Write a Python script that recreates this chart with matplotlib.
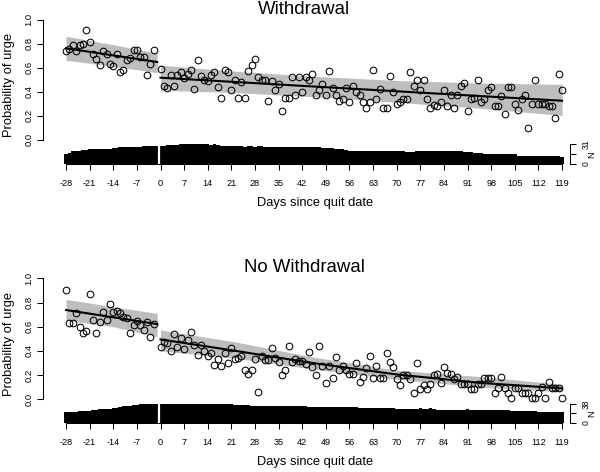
import numpy as np
import matplotlib
matplotlib.use("Agg")
import matplotlib.pyplot as plt

plt.rcParams['font.family'] = ['Liberation Sans', 'DejaVu Sans']

# ---- data ----
pre_days = list(range(-28, -1))       # -28 .. -2
post_days = list(range(0, 120))       # 0 .. 119
bar_pre_days = list(range(-28, 0))    # -28 .. -1
bar_post_days = list(range(0, 120))

w_pre = [0.74, 0.755, 0.785, 0.74, 0.785, 0.80, 0.91, 0.81, 0.71, 0.67,
         0.62, 0.74, 0.71, 0.63, 0.61, 0.71, 0.56, 0.58, 0.66, 0.68,
         0.745, 0.745, 0.69, 0.69, 0.54, 0.63, 0.75]
w_post = [0.59, 0.45, 0.43, 0.54, 0.45, 0.54, 0.56, 0.51, 0.55, 0.58,
          0.42, 0.66, 0.53, 0.50, 0.485, 0.54, 0.56, 0.435, 0.35, 0.58,
          0.56, 0.41, 0.50, 0.35, 0.48, 0.35, 0.57, 0.62, 0.67, 0.52,
          0.50, 0.50, 0.32, 0.49, 0.41, 0.465, 0.24, 0.35, 0.35, 0.52,
          0.37, 0.52, 0.40, 0.52, 0.50, 0.55, 0.37, 0.415, 0.46, 0.37,
          0.57, 0.43, 0.37, 0.32, 0.34, 0.43, 0.31, 0.45, 0.40, 0.37,
          0.31, 0.26, 0.31, 0.58, 0.34, 0.42, 0.26, 0.26, 0.53, 0.40,
          0.30, 0.31, 0.34, 0.34, 0.56, 0.45, 0.50, 0.415, 0.50, 0.34,
          0.26, 0.29, 0.28, 0.31, 0.415, 0.28, 0.37, 0.26, 0.37, 0.45,
          0.47, 0.24, 0.34, 0.35, 0.50, 0.31, 0.34, 0.41, 0.435, 0.28,
          0.28, 0.36, 0.215, 0.435, 0.435, 0.30, 0.25, 0.34, 0.37, 0.10,
          0.30, 0.50, 0.30, 0.30, 0.30, 0.28, 0.28, 0.18, 0.55, 0.41]

nw_pre = [0.90, 0.63, 0.63, 0.716, 0.60, 0.55, 0.567, 0.87, 0.655, 0.545,
          0.64, 0.724, 0.655, 0.785, 0.724, 0.73, 0.71, 0.68, 0.67, 0.55,
          0.61, 0.65, 0.61, 0.573, 0.636, 0.517, 0.62]
nw_post = [0.435, 0.47, 0.463, 0.40, 0.54, 0.435, 0.51, 0.416, 0.49, 0.554,
           0.45, 0.366, 0.45, 0.40, 0.358, 0.385, 0.283, 0.33, 0.278, 0.38,
           0.30, 0.427, 0.33, 0.34, 0.358, 0.242, 0.209, 0.242, 0.333, 0.063,
           0.358, 0.325, 0.325, 0.427, 0.34, 0.31, 0.20, 0.242, 0.44, 0.31,
           0.33, 0.32, 0.32, 0.29, 0.39, 0.27, 0.20, 0.44, 0.275, 0.137,
           0.275, 0.173, 0.352, 0.242, 0.275, 0.242, 0.209, 0.209, 0.30, 0.146,
           0.18, 0.256, 0.358, 0.173, 0.275, 0.173, 0.173, 0.38, 0.31, 0.27,
           0.165, 0.118, 0.20, 0.20, 0.165, 0.05, 0.30, 0.083, 0.118, 0.083,
           0.126, 0.20, 0.209, 0.137, 0.264, 0.22, 0.209, 0.165, 0.18, 0.13,
           0.126, 0.126, 0.083, 0.083, 0.126, 0.126, 0.173, 0.173, 0.173, 0.05,
           0.09, 0.18, 0.09, 0.05, 0.008, 0.09, 0.09, 0.05, 0.05, 0.05,
           0.008, 0.008, 0.05, 0.10, 0.008, 0.146, 0.09, 0.09, 0.09, 0.008]

# fitted lines and confidence bands
w_pre_fit_days = [-28, -1]
w_pre_fit = [0.76, 0.646]
w_pre_band_days = [-28, -14, -1]
w_pre_hi = [0.86, 0.79, 0.72]
w_pre_lo = [0.66, 0.61, 0.557]
w_post_fit_days = [0, 60, 119]
w_post_fit = [0.515, 0.418, 0.323]
w_post_band_days = [0, 20, 45, 70, 95, 119]
w_post_hi = [0.62, 0.573, 0.527, 0.492, 0.47, 0.46]
w_post_lo = [0.41, 0.393, 0.357, 0.31, 0.26, 0.20]

nw_pre_fit_days = [-28, -1]
nw_pre_fit = [0.738, 0.622]
nw_pre_band_days = [-28, -14, -1]
nw_pre_hi = [0.826, 0.765, 0.71]
nw_pre_lo = [0.655, 0.60, 0.517]
nw_post_fit_days = [0, 20, 45, 70, 95, 119]
nw_post_fit = [0.495, 0.41, 0.30, 0.205, 0.135, 0.09]
nw_post_band_days = [0, 22, 45, 70, 95, 119]
nw_post_hi = [0.573, 0.475, 0.35, 0.24, 0.187, 0.124]
nw_post_lo = [0.40, 0.34, 0.25, 0.165, 0.10, 0.063]

# number of participants per day
w_n_pre = [16, 17, 20, 21, 21, 22, 22, 23, 23, 23, 23, 24, 24, 24,
           25, 25, 26, 26, 26, 27, 27, 27, 27, 28, 28, 28, 29, 29]
w_n_post = [29, 29, 30, 30, 30, 30, 31, 31, 31, 31,
            31, 31, 31, 31, 31, 30, 31, 30, 29, 29,
            29, 29, 28, 28, 28, 27, 28, 28, 27, 28,
            28, 27, 27, 27, 27, 27, 26, 26, 27, 27,
            27, 27, 26, 26, 26, 26, 26, 26, 25, 25,
            25, 25, 24, 24, 23, 22, 21, 21, 21, 20,
            21, 21, 21, 21, 20, 20, 20, 20, 20, 20,
            20, 20, 20, 19, 19, 19, 20, 20, 20, 20,
            21, 20, 21, 21, 21, 20, 21, 21, 21, 20,
            19, 19, 19, 18, 17, 17, 16, 16, 16, 16,
            16, 16, 16, 16, 15, 15, 13, 13, 13, 13,
            13, 12, 12, 12, 12, 12, 12, 12, 12, 11]
nw_n_pre = [21, 21, 22, 22, 23, 23, 24, 24, 25, 26, 27, 27, 28, 28,
            29, 30, 32, 33, 34, 34, 35, 36, 37, 38, 38, 38, 37, 37]
nw_n_post = [37, 37, 37, 38, 38, 37, 38, 38, 37, 37,
             38, 38, 38, 38, 38, 38, 38, 38, 38, 38,
             37, 37, 36, 36, 35, 35, 35, 34, 34, 34,
             34, 34, 33, 33, 33, 33, 33, 33, 33, 33,
             33, 33, 33, 33, 32, 32, 32, 32, 32, 32,
             31, 31, 31, 31, 31, 31, 31, 31, 31, 30,
             30, 30, 30, 30, 29, 29, 29, 29, 29, 29,
             28, 28, 28, 28, 28, 27, 27, 29, 27, 27,
             29, 27, 26, 26, 26, 26, 26, 26, 26, 26,
             26, 27, 26, 26, 26, 26, 26, 26, 26, 26,
             26, 26, 26, 26, 24, 24, 23, 23, 23, 23,
             23, 23, 22, 22, 22, 22, 21, 21, 21, 21]

day_ticks = list(range(-28, 120, 7))
prob_ticks = [0.0, 0.2, 0.4, 0.6, 0.8, 1.0]

W, H = 600, 472
fig = plt.figure(figsize=(W / 100, H / 100), dpi=100)


def px_axes(left, top, right, bottom):
    return fig.add_axes([left / W, 1 - bottom / H, (right - left) / W, (bottom - top) / H])


def draw_panel(ax, axb, title, title_y, xlab_y, pre, post, fits, n_pre, n_post):
    band_grey = '#BEBEBE'
    (pf_d, pf, pb_d, p_hi, p_lo, qf_d, qf, qb_d, q_hi, q_lo) = fits
    ax.fill_between(pb_d, p_lo, p_hi, color=band_grey, lw=0, zorder=1)
    ax.fill_between(qb_d, q_lo, q_hi, color=band_grey, lw=0, zorder=1)
    ax.plot(pf_d, pf, color='black', lw=1.5, zorder=3)
    ax.plot(qf_d, qf, color='black', lw=1.5, zorder=3)
    ax.plot(pre_days, pre, 'o', mfc='none', mec='black', ms=4.8, mew=0.75, zorder=2)
    ax.plot(post_days, post, 'o', mfc='none', mec='black', ms=4.8, mew=0.75, zorder=2)

    ax.set_xlim(-34.73, 124.9)
    ax.set_ylim(-0.04, 1.04)
    for s in ['top', 'right', 'bottom']:
        ax.spines[s].set_visible(False)
    ax.spines['left'].set_bounds(0, 1)
    ax.spines['left'].set_linewidth(0.75)
    ax.set_xticks([])
    ax.set_yticks(prob_ticks)
    ax.set_yticklabels(['%.1f' % t for t in prob_ticks])
    ax.tick_params(axis='y', length=4, width=0.75, labelsize=6.8, labelrotation=90, pad=3)
    for lbl in ax.get_yticklabels():
        lbl.set_va('center')
    ax.set_ylabel('Probability of urge', fontsize=9.3)
    ax.yaxis.set_label_coords(-0.053, 0.46)
    ax.patch.set_alpha(0)

    # sample size bars
    axb.bar(bar_pre_days, n_pre, width=1.0, color='black', lw=0)
    axb.bar(bar_post_days, n_post, width=1.0, color='black', lw=0)
    axb.axvline(-0.55, color='white', lw=1.6)
    nmax = max(n_pre + n_post)
    axb.set_xlim(-34.73, 124.9)
    axb.set_ylim(0, nmax)
    axb.spines['top'].set_visible(False)
    axb.spines['left'].set_visible(False)
    axb.spines['bottom'].set_bounds(-28, 119)
    axb.spines['bottom'].set_linewidth(0.75)
    axb.spines['right'].set_position(('axes', 0.978))
    axb.spines['right'].set_bounds(0, nmax)
    axb.spines['right'].set_linewidth(0.75)
    axb.set_xticks(day_ticks)
    axb.set_xticklabels([str(t) for t in day_ticks])
    axb.tick_params(axis='x', length=4, width=0.75, labelsize=6.6, pad=7)
    axb.yaxis.tick_right()
    axb.set_yticks([0, nmax / 2, nmax])
    axb.set_yticklabels(['0', '', str(nmax)])
    axb.tick_params(axis='y', length=4, width=0.75, labelsize=6.2, labelrotation=90, pad=4)
    for lbl in axb.get_yticklabels():
        lbl.set_va('center')
    axb.yaxis.set_label_position('right')
    axb.set_ylabel('N', fontsize=6.8, rotation=90)
    axb.yaxis.set_label_coords(1.009, 0.5)
    axb.patch.set_alpha(0)

    fig.text(304 / W, 1 - title_y / H, title, fontsize=13.4, ha='center', va='center')
    fig.text(314.7 / W, 1 - xlab_y / H, 'Days since quit date', fontsize=9.3,
             ha='center', va='center')


ax_top = px_axes(43.3, 14.7, 582, 144.3)
axb_top = px_axes(43.3, 144.3, 582, 164)
ax_bot = px_axes(43.3, 273.5, 582, 404.1)
axb_bot = px_axes(43.3, 404, 582, 422.7)

draw_panel(ax_top, axb_top, 'Withdrawal', 9.5, 203, w_pre, w_post,
           (w_pre_fit_days, w_pre_fit, w_pre_band_days, w_pre_hi, w_pre_lo,
            w_post_fit_days, w_post_fit, w_post_band_days, w_post_hi, w_post_lo),
           w_n_pre, w_n_post)
draw_panel(ax_bot, axb_bot, 'No Withdrawal', 268, 462, nw_pre, nw_post,
           (nw_pre_fit_days, nw_pre_fit, nw_pre_band_days, nw_pre_hi, nw_pre_lo,
            nw_post_fit_days, nw_post_fit, nw_post_band_days, nw_post_hi, nw_post_lo),
           nw_n_pre, nw_n_post)

fig.savefig('out.png', dpi=100)
